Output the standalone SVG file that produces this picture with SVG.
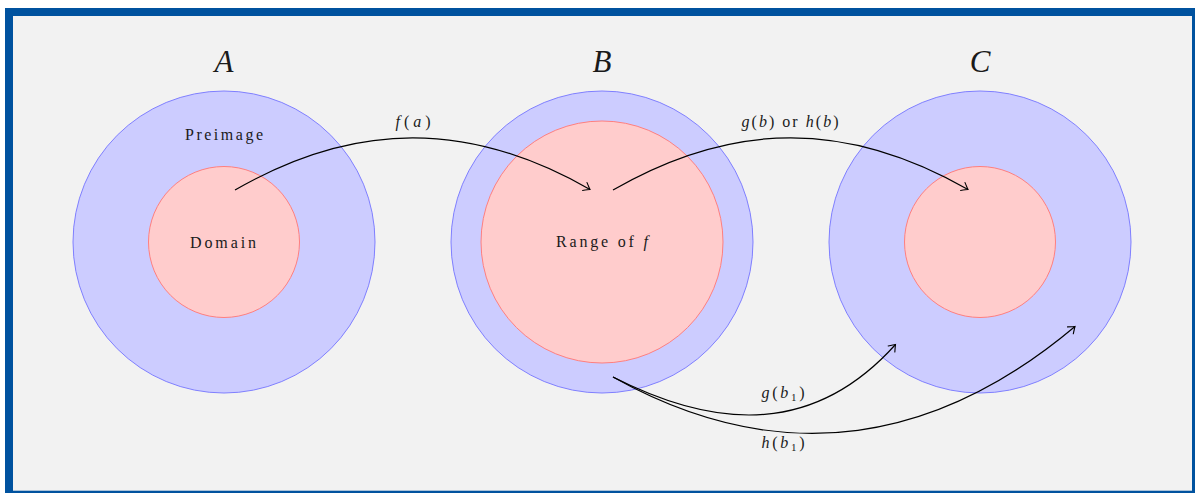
<svg xmlns="http://www.w3.org/2000/svg" width="1195" height="493" viewBox="0 0 1195 493">
<style>
.outer{fill:#ccccff;stroke:#7f7fff;stroke-width:1}
.inner{fill:#ffcccc;stroke:#ff7f7f;stroke-width:1}
.big{font-family:"Liberation Serif",serif;font-style:italic;font-size:31px;fill:#1a1a1a;text-anchor:middle}
.lbl{font-family:"Liberation Serif",serif;font-size:16px;fill:#1a1a1a;text-anchor:middle}
.it{font-style:italic}
.sub{font-size:11px}
.edge{fill:none;stroke:#000;stroke-width:1.2;marker-end:url(#arr)}
</style>
<defs>
<marker id="arr" markerUnits="userSpaceOnUse" markerWidth="12" markerHeight="12" viewBox="-8 -6 10 12" refX="0" refY="0" orient="auto">
<path d="M-6,-4.5 Q-1.5,-1 0,0 Q-1.5,1 -6,4.5" fill="none" stroke="#000" stroke-width="1.1" stroke-linecap="round"/>
</marker>
</defs>
<rect x="9" y="12" width="1187" height="482.7" fill="#f2f2f2" stroke="#00529f" stroke-width="8"/>
<g id="nodeA">
<circle class="outer" cx="224" cy="242" r="151"/>
<circle class="inner" cx="224" cy="242" r="75.5"/>
<text class="big" x="224" y="72">A</text>
<text class="lbl" x="224" y="140" textLength="78" lengthAdjust="spacing">Preimage</text>
<text class="lbl" x="223" y="248" textLength="66" lengthAdjust="spacing">Domain</text>
</g>
<g id="nodeB">
<circle class="outer" cx="602" cy="242" r="151"/>
<circle class="inner" cx="602" cy="242" r="121"/>
<text class="big" x="602" y="72">B</text>
<text class="lbl" x="602" y="247" textLength="92" lengthAdjust="spacing">Range of <tspan class="it">f</tspan></text>
</g>
<g id="nodeC">
<circle class="outer" cx="980" cy="242" r="151"/>
<circle class="inner" cx="980" cy="242" r="75.5"/>
<text class="big" x="980" y="72">C</text>
</g>
<g id="connectors">
<path class="edge" d="M235,190 C355.4,120.5 469.6,120.5 590,189.5"/>
<path class="edge" d="M613,190 C733.4,120.5 847.6,120.5 968,189.5"/>
<path class="edge" d="M613,377 C720,431.5 816,433 895.5,344.5"/>
<path class="edge" d="M613,377 C785,473 940,440 1075,326.5"/>
<text class="lbl" x="413" y="127" textLength="35" lengthAdjust="spacing"><tspan class="it">f</tspan>(<tspan class="it">a</tspan>)</text>
<text class="lbl" x="790" y="127" textLength="97" lengthAdjust="spacing"><tspan class="it">g</tspan>(<tspan class="it">b</tspan>) or <tspan class="it">h</tspan>(<tspan class="it">b</tspan>)</text>
<text class="lbl" x="783" y="398" textLength="43" lengthAdjust="spacing"><tspan class="it">g</tspan>(<tspan class="it">b</tspan><tspan class="sub" dy="3">1</tspan><tspan dy="-3">)</tspan></text>
<text class="lbl" x="783" y="448" textLength="43" lengthAdjust="spacing"><tspan class="it">h</tspan>(<tspan class="it">b</tspan><tspan class="sub" dy="3">1</tspan><tspan dy="-3">)</tspan></text>
</g>
</svg>
